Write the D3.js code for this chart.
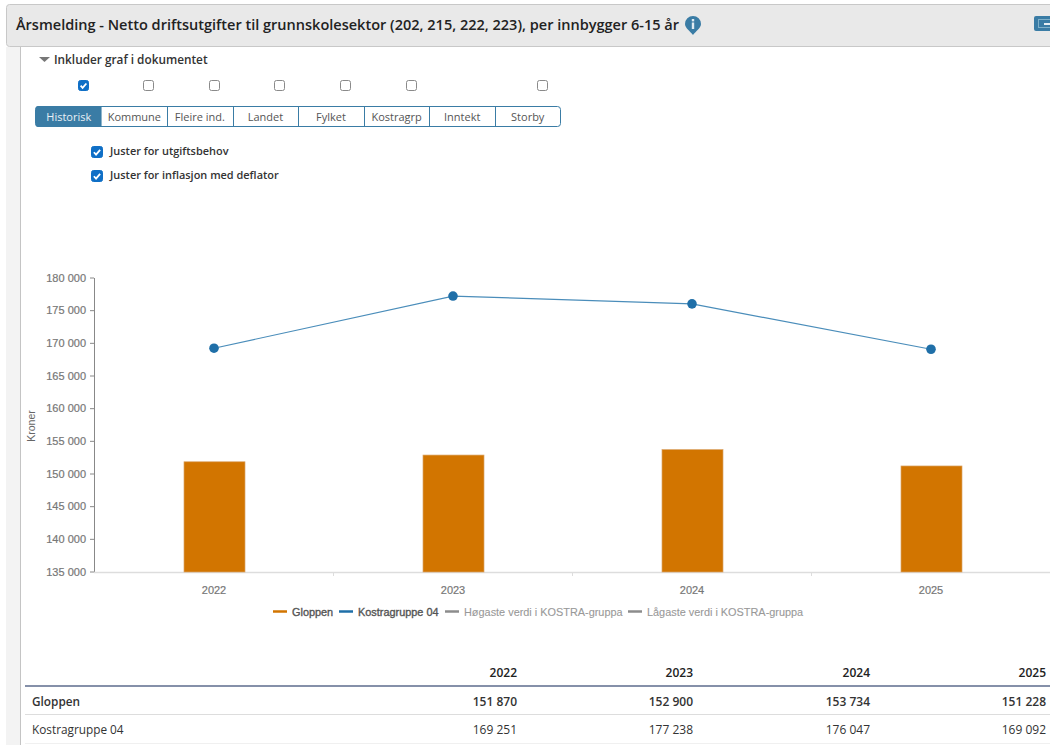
<!DOCTYPE html>
<meta charset="utf-8">
<style>
    html, body { margin: 0; padding: 0; background: #fff; overflow: hidden; }
    svg { display: block; }
    text { font-family: "Open Sans", sans-serif; }
    .chart text { font-family: "Liberation Sans", Arial, sans-serif; }
    .axis .domain { display: none; }
</style>
<svg width="1050" height="745"></svg>
<script src="https://d3js.org/d3.v7.min.js"></script>
<script>

    var years = ["2022", "2023", "2024", "2025"];
    var gloppen = [151870, 152900, 153734, 151228];
    var kostragruppe = [169251, 177238, 176047, 169092];
    var yTicks = [135000, 140000, 145000, 150000, 155000, 160000, 165000, 170000, 175000, 180000];
    var tabs = ["Historisk", "Kommune", "Fleire ind.", "Landet", "Fylket", "Kostragrp", "Inntekt", "Storby"];
    var tabChecks = [true, false, false, false, false, false, null, false];
    var options = ["Juster for utgiftsbehov", "Juster for inflasjon med deflator"];
    var legendNames = ["Gloppen", "Kostragruppe 04", "Høgaste verdi i KOSTRA-gruppa", "Lågaste verdi i KOSTRA-gruppa"];
    var title = "Årsmelding - Netto driftsutgifter til grunnskolesektor (202, 215, 222, 223), per innbygger 6-15 år";

    var svg = d3.select("svg");
    var blue = "#3a7ca5";
    var checkBlue = "#0f6fc6";

    // norwegian thousands separator
    var fmt = d3.formatLocale({ decimal: ",", thousands: " ", grouping: [3], currency: ["", ""] }).format(",d");

    // page frame
    svg.append("rect").attr("x", 6).attr("y", 47).attr("width", 14).attr("height", 698).attr("fill", "#f3f3f3");
    svg.append("rect").attr("x", 20).attr("y", 47).attr("width", 1).attr("height", 698).attr("fill", "#c4c4c4");

    // header
    svg.append("rect").attr("x", 6.5).attr("y", 4.5).attr("width", 1060).attr("height", 42)
        .attr("rx", 3).attr("fill", "#e9e9e9").attr("stroke", "#c8c8c8");
    svg.append("text").attr("x", 16).attr("y", 30)
        .attr("font-size", 14.52).attr("font-weight", 600).attr("fill", "#222").text(title);

    // info icon
    var info = svg.append("g").attr("transform", "translate(693,24)");
    info.append("path").attr("d", "M-8,0 A8,8 0 1 1 8,0 C8,4 3,7 0,11 C-3,7 -8,4 -8,0 Z").attr("fill", blue);
    info.append("rect").attr("x", -1.2).attr("y", -5).attr("width", 2.4).attr("height", 2.4).attr("fill", "#dfeaf1");
    info.append("rect").attr("x", -1.2).attr("y", -1.5).attr("width", 2.4).attr("height", 6.5).attr("fill", "#dfeaf1");

    // export icon, cut by the window edge
    var exportIcon = svg.append("g");
    exportIcon.append("rect").attr("x", 1034).attr("y", 16).attr("width", 20).attr("height", 15).attr("rx", 2).attr("fill", blue);
    exportIcon.append("rect").attr("x", 1038.5).attr("y", 19.5).attr("width", 16).attr("height", 8).attr("fill", "none").attr("stroke", "#7fb0c9");
    exportIcon.append("rect").attr("x", 1044).attr("y", 23).attr("width", 8).attr("height", 2).attr("fill", "#e6eef3");

    // include graph toggle
    svg.append("path").attr("d", "M39,57 H50 L44.5,62 Z").attr("fill", "#777");
    svg.append("text").attr("x", 54).attr("y", 63.5)
        .attr("font-size", 11.8).attr("font-weight", 600).attr("fill", "#333").text("Inkluder graf i dokumentet");

    function checkbox(g, x, y, size, on) {
        g.append("rect").attr("x", x + 0.5).attr("y", y + 0.5).attr("width", size - 1).attr("height", size - 1).attr("rx", 2)
            .attr("fill", on ? checkBlue : "#fff").attr("stroke", on ? checkBlue : "#8a8a8a");
        if (on) {
            g.append("path").attr("d", "M" + (x + size * 0.24) + "," + (y + size * 0.52) + " l" + (size * 0.18) + "," + (size * 0.2) + " l" + (size * 0.34) + "," + (-size * 0.4))
                .attr("fill", "none").attr("stroke", "#fff").attr("stroke-width", 1.8);
        }
    }

    // tab bar
    var tabX = d3.scaleBand().domain(tabs).range([36, 560.5]);
    var tabG = svg.append("g");
    tabG.append("rect").attr("x", 35.5).attr("y", 106.5).attr("width", 525).attr("height", 20).attr("rx", 3)
        .attr("fill", "#fff").attr("stroke", blue);
    tabG.append("path")
        .attr("d", "M" + tabX(tabs[1]) + ",106 H38.5 a3,3 0 0 0 -3,3 V124 a3,3 0 0 0 3,3 H" + tabX(tabs[1]) + " Z")
        .attr("fill", blue);
    tabs.forEach(function (d, i) {
        if (i > 1) {
            tabG.append("line").attr("x1", Math.round(tabX(d)) + 0.5).attr("x2", Math.round(tabX(d)) + 0.5)
                .attr("y1", 107).attr("y2", 127).attr("stroke", blue);
        }
        tabG.append("text").attr("x", tabX(d) + tabX.bandwidth() / 2).attr("y", 121)
            .attr("text-anchor", "middle").attr("font-size", 11)
            .attr("fill", i == 0 ? "#e8f0f5" : "#555").text(d);
        // the checkboxes sit a bit right of their tabs
        if (tabChecks[i] !== null) checkbox(svg, Math.round(tabX(d) + tabX.bandwidth() / 2) + 9, 80, 11, tabChecks[i]);
    });

    // adjustment options
    options.forEach(function (d, i) {
        checkbox(svg, 91, 146 + i * 24, 12, true);
        svg.append("text").attr("x", 110).attr("y", 155 + i * 24)
            .attr("font-size", 10.95).attr("font-weight", 600).attr("fill", "#333").text(d);
    });

    // chart
    var chart = svg.append("g").attr("class", "chart");

    var x = d3.scaleBand().domain(years).range([94.5, 1050.5]);
    var y = d3.scaleLinear().domain([135000, 180000]).range([572, 278]);

    var xAxis = chart.append("g").attr("class", "axis")
        .attr("transform", "translate(0,572)")
        .call(d3.axisBottom(x).tickSize(0).tickPadding(14));
    xAxis.selectAll("text").attr("font-size", 11).attr("fill", "#777")
        .attr("stroke", "#777").attr("stroke-width", 0.2);

    chart.append("g").selectAll("line")
        .data(years.slice(1))
        .enter().append("line")
        .attr("x1", function (d) { return x(d); })
        .attr("x2", function (d) { return x(d); })
        .attr("y1", 572).attr("y2", 576)
        .attr("stroke", "#ddd");

    var yAxis = chart.append("g").attr("class", "axis")
        .attr("transform", "translate(94,-0.5)")
        .call(d3.axisLeft(y).tickValues(yTicks).tickFormat(fmt).tickSize(4).tickPadding(4));
    yAxis.selectAll("text").attr("font-size", 11).attr("fill", "#777")
        .attr("stroke", "#777").attr("stroke-width", 0.2);
    yAxis.selectAll("line").attr("stroke", "#888");

    chart.append("line").attr("x1", 94.5).attr("x2", 94.5).attr("y1", 278).attr("y2", 572).attr("stroke", "#888");
    chart.append("line").attr("x1", 94).attr("x2", 1050).attr("y1", 572.5).attr("y2", 572.5).attr("stroke", "#ddd").attr("stroke-width", 1.5);

    chart.append("text")
        .attr("transform", "translate(35,426) rotate(-90)")
        .attr("text-anchor", "middle").attr("font-size", 10.5).attr("fill", "#666")
        .text("Kroner");

    var barWidth = 61;
    chart.append("g").selectAll("rect")
        .data(gloppen)
        .enter().append("rect")
        .attr("x", function (d, i) { return x(years[i]) + x.bandwidth() / 2 - barWidth / 2 + 0.5; })
        .attr("y", function (d) { return y(d); })
        .attr("width", barWidth)
        .attr("height", function (d) { return 572 - y(d); })
        .attr("fill", "#d27500")
        .attr("stroke", "#dba467")
        .attr("stroke-width", 0.7);

    var line = d3.line()
        .x(function (d, i) { return x(years[i]) + x.bandwidth() / 2; })
        .y(function (d) { return y(d); });

    chart.append("path").datum(kostragruppe)
        .attr("d", line).attr("fill", "none").attr("stroke", "#4a8dba").attr("stroke-width", 1.2);

    chart.append("g").selectAll("circle")
        .data(kostragruppe)
        .enter().append("circle")
        .attr("cx", function (d, i) { return x(years[i]) + x.bandwidth() / 2; })
        .attr("cy", function (d) { return y(d); })
        .attr("r", 4.8)
        .attr("fill", "#1f6fa8");

    // legend
    var legendColors = ["#d27500", "#1f6fa8", "#8c8c8c", "#8c8c8c"];
    var legendText = ["#555", "#555", "#999", "#999"];
    var legendX = [273, 339, 445, 628];
    legendNames.forEach(function (d, i) {
        chart.append("line").attr("x1", legendX[i]).attr("x2", legendX[i] + 14)
            .attr("y1", 611.5).attr("y2", 611.5)
            .attr("stroke", legendColors[i]).attr("stroke-width", 2.5);
        chart.append("text").attr("x", legendX[i] + 19).attr("y", 615.5)
            .attr("font-size", 10.9)
            .attr("stroke", legendText[i]).attr("stroke-width", i < 2 ? 0.35 : 0.1)
            .attr("fill", legendText[i]).text(d);
    });

    // table
    var colRight = [517, 693, 870, 1046];
    var rows = [
        { name: "Gloppen", values: gloppen, y: 706, weight: 600 },
        { name: "Kostragruppe 04", values: kostragruppe, y: 734, weight: 400 }
    ];
    var table = svg.append("g");
    years.forEach(function (d, i) {
        table.append("text").attr("x", colRight[i]).attr("y", 677).attr("text-anchor", "end")
            .attr("font-size", 12).attr("font-weight", 600).attr("fill", "#222").text(d);
    });
    table.append("line").attr("x1", 25).attr("x2", 1050).attr("y1", 686).attr("y2", 686).attr("stroke", "#5d6b8c").attr("stroke-width", 1.3);
    table.append("line").attr("x1", 25).attr("x2", 1050).attr("y1", 714.5).attr("y2", 714.5).attr("stroke", "#ddd");
    table.append("line").attr("x1", 25).attr("x2", 1050).attr("y1", 743.5).attr("y2", 743.5).attr("stroke", "#f0f0f0");
    rows.forEach(function (r) {
        table.append("text").attr("x", 32).attr("y", r.y).attr("font-size", 11.8)
            .attr("font-weight", r.weight).attr("fill", "#333").text(r.name);
        r.values.forEach(function (v, i) {
            table.append("text").attr("x", colRight[i]).attr("y", r.y).attr("text-anchor", "end")
                .attr("font-size", 12).attr("font-weight", r.weight).attr("fill", "#333").text(fmt(v));
        });
    });

</script>
